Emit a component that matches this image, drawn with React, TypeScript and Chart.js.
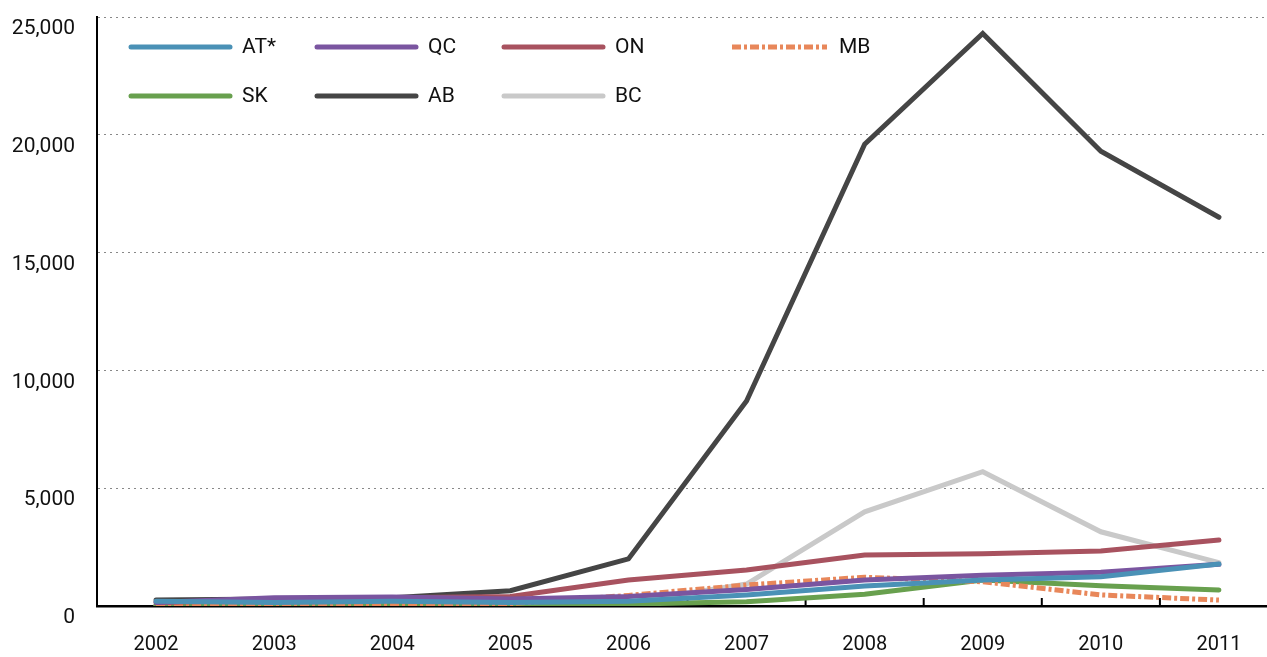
import React, { useEffect, useRef } from "react";
import { Chart, registerables } from "chart.js";

Chart.register(...registerables);

const years = ["2002", "2003", "2004", "2005", "2006", "2007", "2008", "2009", "2010", "2011"];
const seriesNames = ["AT*", "QC", "ON", "MB", "SK", "AB", "BC"];

const atValues = [200, 150, 200, 150, 200, 470, 850, 1100, 1240, 1780];
const qcValues = [150, 350, 380, 300, 400, 700, 1100, 1310, 1430, 1770];
const onValues = [150, 250, 350, 400, 1100, 1530, 2160, 2220, 2330, 2800];
const mbValues = [50, 50, 100, 100, 450, 890, 1220, 1030, 470, 250];
const skValues = [50, 50, 100, 100, 80, 180, 500, 1100, 860, 680];
const abValues = [250, 300, 350, 650, 2000, 8700, 19600, 24300, 19300, 16500];
const bcValues = [50, 50, 100, 100, 150, 930, 4000, 5700, 3150, 1840];

const seriesValues = [atValues, qcValues, onValues, mbValues, skValues, abValues, bcValues];
const seriesColors = ["#4a91b6", "#7a55a0", "#a8525f", "#e8875a", "#68a04e", "#454545", "#c9c9c9"];
const dashedSeries = ["MB"];

const yTicks = [0, 5000, 10000, 15000, 20000, 25000];

const FONT = "Roboto, 'Noto Sans', sans-serif";

const legendCols = [34, 220, 407, 635];
const legendRows = [30, 79];

const innerTicksPlugin = {
  id: "innerTicks",
  beforeDatasetsDraw(chart: any) {
    const x = chart.scales.x;
    const { ctx, chartArea } = chart;
    ctx.save();
    ctx.strokeStyle = "#000";
    ctx.lineWidth = 2;
    for (let i = 1; i <= years.length; i++) {
      const px = (x.getPixelForValue(i) + x.getPixelForValue(i - 1)) / 2;
      ctx.beginPath();
      ctx.moveTo(px, chartArea.bottom - 8);
      ctx.lineTo(px, chartArea.bottom);
      ctx.stroke();
    }
    ctx.restore();
  },
};

const legendPlugin = {
  id: "customLegend",
  afterDraw(chart: any) {
    const { ctx, chartArea } = chart;
    ctx.save();
    chart.data.datasets.forEach((ds: any, i: number) => {
      const col = i % 4;
      const row = Math.floor(i / 4);
      const x0 = chartArea.left + legendCols[col];
      const y = chartArea.top + legendRows[row];
      const dashed = ds.borderDash && ds.borderDash.length > 0;
      const len = dashed ? 95 : 99;
      ctx.beginPath();
      ctx.strokeStyle = ds.borderColor;
      ctx.lineWidth = 5;
      ctx.lineCap = dashed ? "butt" : "round";
      ctx.setLineDash(dashed ? ds.borderDash : []);
      ctx.moveTo(x0, y);
      ctx.lineTo(x0 + len, y);
      ctx.stroke();
      ctx.setLineDash([]);
      ctx.fillStyle = "#111";
      ctx.font = `21px ${FONT}`;
      ctx.textBaseline = "middle";
      ctx.textAlign = "left";
      ctx.fillText(ds.label, x0 + len + 12, y + 1);
    });
    ctx.restore();
  },
};

export default function App() {
  const canvasRef = useRef<HTMLCanvasElement | null>(null);

  useEffect(() => {
    document.body.style.margin = "0";
    document.documentElement.style.overflow = "hidden";
    document.body.style.overflow = "hidden";
    const canvas = canvasRef.current;
    if (!canvas) return;
    const chart = new Chart(canvas, {
      type: "line",
      data: {
        labels: years,
        datasets: seriesNames.map((name, i) => {
          const dashed = dashedSeries.includes(name);
          return {
            label: name,
            data: seriesValues[i],
            borderColor: seriesColors[i],
            backgroundColor: seriesColors[i],
            borderWidth: 5,
            borderCapStyle: dashed ? "butt" : "round",
            borderJoinStyle: "miter",
            borderDash: dashed ? [9, 3, 3, 3] : [],
            pointRadius: 0,
            pointHoverRadius: 0,
            tension: 0,
            fill: false,
          } as any;
        }),
      },
      options: {
        animation: false,
        responsive: true,
        maintainAspectRatio: false,
        layout: { padding: { top: 17, right: 0, left: 0, bottom: 0 } },
        plugins: {
          legend: { display: false },
          tooltip: { enabled: false },
        },
        scales: {
          x: {
            type: "category",
            offset: true,
            grid: { display: false, drawTicks: false },
            border: { display: true, color: "#000", width: 2.5 },
            ticks: {
              color: "#111",
              font: { family: FONT, size: 20 },
              padding: 27,
              maxRotation: 0,
            },
            afterFit: (scale: any) => {
              scale.height = 51;
              scale.paddingLeft = 0;
              scale.paddingRight = 0;
            },
          },
          y: {
            min: 0,
            max: 25000,
            afterBuildTicks: (scale: any) => {
              scale.ticks = yTicks.map((v) => ({ value: v }));
            },
            grid: {
              color: (c: any) => (c.tick && c.tick.value === 0 ? "rgba(0,0,0,0)" : "#888888"),
              lineWidth: 1,
              drawTicks: false,
            },
            border: { display: true, color: "#000", width: 2, dash: [2, 4] },
            ticks: {
              color: "#111",
              font: { family: FONT, size: 21 },
              padding: 22,
              labelOffset: 12,
              callback: (v: any) => Number(v).toLocaleString("en-US"),
            },
            afterFit: (scale: any) => {
              scale.width = 97;
              scale.paddingTop = 0;
              scale.paddingBottom = 0;
            },
          },
        },
      },
      plugins: [innerTicksPlugin, legendPlugin],
    });
    return () => chart.destroy();
  }, []);

  return (
    <div style={{ position: "absolute", left: 0, top: 0, width: 1278, height: 657 }}>
      <canvas ref={canvasRef} />
    </div>
  );
}
